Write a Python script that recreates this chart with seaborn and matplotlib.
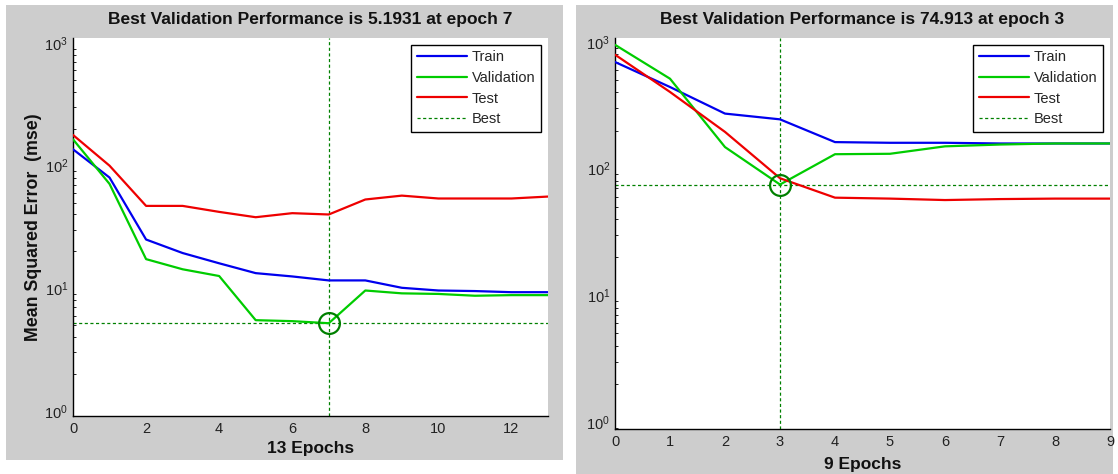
import numpy as np
import pandas as pd
import matplotlib
matplotlib.use("Agg")
import matplotlib.pyplot as plt
from matplotlib.patches import Rectangle
from matplotlib.lines import Line2D
import seaborn as sns

# ---------------- data ----------------
epochs_a = list(range(14))
train_a = [136, 80, 25, 19.4, 16, 13.3, 12.5, 11.6, 11.6, 10.1, 9.6, 9.5, 9.3, 9.3]
valid_a = [164, 71, 17.3, 14.3, 12.6, 5.5, 5.4, 5.1931, 9.6, 9.1, 9.0, 8.7, 8.8, 8.8]
test_a = [178, 100, 47, 47, 42, 38, 41, 40, 53, 57, 54, 54, 54, 56]
best_a_epoch, best_a_value = 7, 5.1931
title_a = "Best Validation Performance is 5.1931 at epoch 7"
xlabel_a = "13 Epochs"
xticks_a = [0, 2, 4, 6, 8, 10, 12]

epochs_b = list(range(10))
train_b = [695, 441, 272, 245, 162, 160, 160, 158, 158, 158]
valid_b = [950, 513, 148, 74.913, 130, 131, 150, 155, 158, 158]
test_b = [794, 403, 195, 84, 59, 58, 56.5, 57.5, 58, 58]
best_b_epoch, best_b_value = 3, 74.913
title_b = "Best Validation Performance is 74.913 at epoch 3"
xlabel_b = "9 Epochs"
xticks_b = list(range(10))

ylabel = "Mean Squared Error  (mse)"
series_names = ["Train", "Validation", "Test"]
colors = {"Train": "#0000EE", "Validation": "#00CC00", "Test": "#EE0000"}
best_color = "#008000"

sns.set_style("white")
plt.rcParams["font.family"] = ["Liberation Sans", "DejaVu Sans"]

W, H = 1118, 474
fig = plt.figure(figsize=(W / 100, H / 100), dpi=100)
fig.patch.set_facecolor("white")

def px_rect(x0, y0, x1, y1):
    return [x0 / W, 1 - y1 / H, (x1 - x0) / W, (y1 - y0) / H]

# gray panel backgrounds
for r in [px_rect(6, 5, 563, 460), px_rect(576, 5, 1113, 474)]:
    fig.add_artist(Rectangle((r[0], r[1]), r[2], r[3], transform=fig.transFigure,
                             facecolor="#CDCDCD", edgecolor="none", zorder=0))

def panel(rect, epochs, tr, va, te, best_e, best_v, title, xlabel, xticks, ylim,
          show_ylabel, xlabelpad):
    ax = fig.add_axes(rect)
    ax.set_facecolor("white")
    df = pd.DataFrame({
        "epoch": epochs * 3,
        "mse": tr + va + te,
        "set": ["Train"] * len(epochs) + ["Validation"] * len(epochs) + ["Test"] * len(epochs),
    })
    sns.lineplot(data=df, x="epoch", y="mse", hue="set", hue_order=series_names,
                 palette=colors, linewidth=1.6, ax=ax, legend=False, zorder=3)
    ax.axhline(best_v, color=best_color, linestyle=(0, (2.5, 2)), linewidth=0.9, zorder=2)
    ax.axvline(best_e, color=best_color, linestyle=(0, (2.5, 2)), linewidth=0.9, zorder=2)
    ax.plot([best_e], [best_v], marker="o", markersize=15, markerfacecolor="none",
            markeredgecolor=best_color, markeredgewidth=1.6, linestyle="none", zorder=4)
    ax.set_yscale("log")
    ax.set_ylim(*ylim)
    ax.set_xlim(epochs[0], epochs[-1])
    ax.set_xticks(xticks)
    ax.set_xticklabels([str(t) for t in xticks])
    ax.tick_params(axis="both", which="major", direction="in", length=4, width=0.8,
                   labelsize=10.5, colors="black", labelcolor="#222222")
    ax.tick_params(axis="y", which="minor", direction="in", length=2.5, width=0.7, left=True)
    ax.tick_params(axis="x", which="minor", bottom=False)
    ax.tick_params(axis="x", pad=4)
    for s in ["top", "right"]:
        ax.spines[s].set_visible(False)
    for s in ["left", "bottom"]:
        ax.spines[s].set_color("black")
        ax.spines[s].set_linewidth(1.0)
    ax.set_title(title, fontsize=12.5, fontweight="bold", pad=10, color="#111111")
    ax.set_xlabel(xlabel, fontsize=12.5, fontweight="bold", labelpad=xlabelpad, color="#111111")
    if show_ylabel:
        ax.set_ylabel(ylabel, fontsize=12.8, fontweight="bold", labelpad=2, color="#111111")
    else:
        ax.set_ylabel("")
    handles = [Line2D([], [], color=colors[n], linewidth=1.6) for n in series_names]
    handles.append(Line2D([], [], color=best_color, linewidth=0.9, linestyle=(0, (2.5, 2))))
    leg = ax.legend(handles, series_names + ["Best"], loc="upper right", fontsize=10.5,
                    frameon=True, fancybox=False, edgecolor="black", framealpha=1,
                    handlelength=3.4, handletextpad=0.35, labelspacing=0.45,
                    borderpad=0.4, borderaxespad=0.45)
    leg.get_frame().set_linewidth(1.0)
    return ax

panel(px_rect(73, 38, 548, 416), epochs_a, train_a, valid_a, test_a, best_a_epoch, best_a_value,
      title_a, xlabel_a, xticks_a, (0.91, 1099), True, 4)
panel(px_rect(615, 38, 1110, 429), epochs_b, train_b, valid_b, test_b, best_b_epoch, best_b_value,
      title_b, xlabel_b, xticks_b, (0.88, 1075), False, 6)

fig.savefig("out.png", dpi=100)
